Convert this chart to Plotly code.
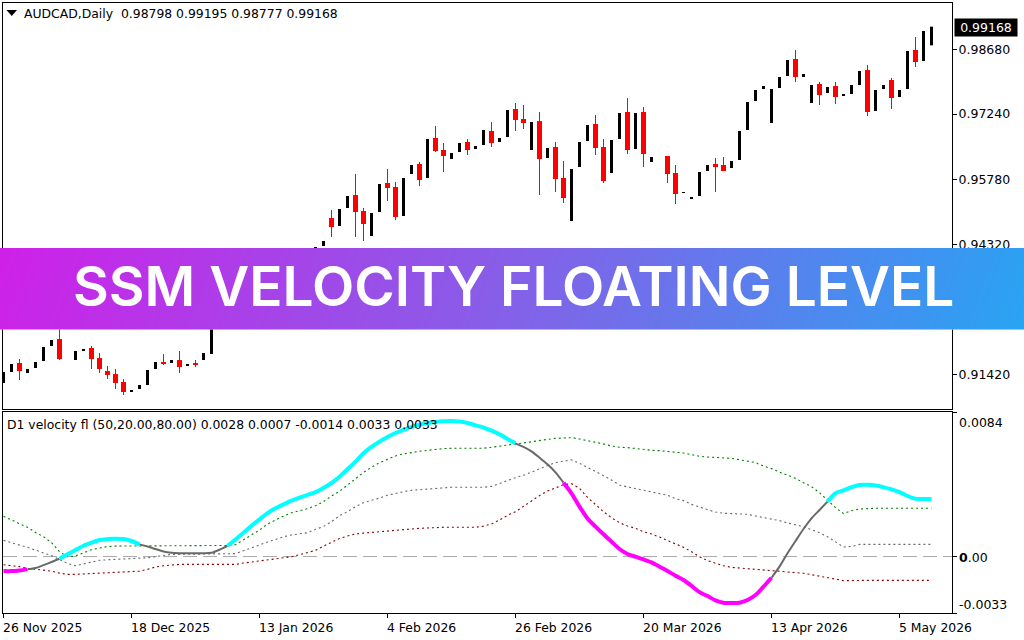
import numpy as np
import plotly.graph_objects as go

symbol = "AUDCAD,Daily"
last_quote = "0.98798 0.99195 0.98777 0.99168"
indicator_label = "D1 velocity fl (50,20.00,80.00) 0.0028 0.0007 -0.0014 0.0033 0.0033"
banner_title = "SSM VELOCITY FLOATING LEVEL"

opens = [.91227,.91473,.91674,.91451,.91563,.91719,.92055,.92211,.92480,.91741,.91965,.92010,.91786,.91495,.91428,.91250,.91048,.91093,.91182,.91540,
 .91697,.91674,.91741,.91607,.91674,.91741,.91876,.92500,.93000,.93500,.93100,.93500,.93800,.93500,.93700,.93950,.93700,.93800,.93900,.94100,
 .94291,.94916,.94738,.95140,.95431,.95073,.94514,.95051,.95699,.95610,.94961,.95901,.96124,.95811,.96705,.96437,.96236,.96392,.96616,.96459,
 .96549,.96862,.96616,.96728,.97354,.97130,.96437,.97085,.96258,.96504,.95811,.94849,.96057,.96638,.97018,.96504,.95923,.96683,.97287,.96459,
 .97287,.96169,None,.96303,.95923,.95476,.95341,.95408,.95968,.96124,.96102,.96035,.96213,.96884,.97533,.97801,.97041,.97823,.98092,.98472,
 .98069,.97488,.97913,.97711,.97868,.97644,.97689,.97890,.98226,.97309,.97801,.98002,.97622,.97801,.98673,.98427,.98798]
highs = [.91473,.91652,.91764,.91540,.91697,.92032,.92189,.92524,.92900,.91943,.91987,.92055,.91898,.91607,.91540,.91317,.91071,.91182,.91518,.91697,
 .91876,.91741,.91943,.91652,.91741,.91898,.92500,.93000,.93300,.93600,.93500,.93800,.93900,.93700,.93900,.94050,.94000,.94050,.94100,.94268,
 .94402,.95095,.95118,.95408,.95901,.95140,.95028,.95677,.96012,.95721,.95811,.96102,.96169,.96683,.96974,.96594,.96370,.96594,.96683,.96526,
 .96884,.97063,.96705,.97331,.97488,.97443,.97063,.97287,.96482,.96616,.96191,.96012,.96616,.96996,.97220,.96683,.96661,.97264,.97600,.97264,
 .97398,.96280,None,.96303,.96102,.95498,.95386,.95945,.96102,.96258,.96280,.96191,.96862,.97510,.97779,.97868,.97801,.98069,.98449,.98673,
 .98136,.97890,.97958,.97846,.97958,.97689,.97890,.98203,.98338,.97779,.97890,.98047,.97779,.98651,.98964,.99098,.99195]
lows = [.91227,.91473,.91294,.91451,.91563,.91719,.92055,.91741,.92480,.91741,.91965,.91540,.91451,.91317,.91093,.90959,.91048,.91093,.91182,.91540,
 .91630,.91674,.91451,.91607,.91585,.91741,.91876,.92500,.93000,.93000,.93100,.93500,.93400,.93500,.93700,.93600,.93700,.93800,.93900,.94100,
 .94291,.94492,.94738,.95140,.94492,.94402,.94514,.95051,.95297,.94872,.94961,.95901,.95632,.95811,.96392,.95945,.96236,.96392,.96325,.96459,
 .96549,.96504,.96616,.96728,.96862,.96907,.96437,.95431,.96258,.95498,.95252,.94849,.96057,.96638,.96325,.95699,.95923,.96683,.96348,.96459,
 .96057,.96169,None,.95699,.95230,.95476,.95341,.95408,.95968,.95498,.95968,.96035,.96213,.96884,.97533,.97801,.97041,.97823,.98092,.97958,
 .98069,.97488,.97443,.97711,.97466,.97644,.97689,.97890,.97197,.97309,.97801,.97354,.97622,.97801,.98293,.98427,.98777]
closes = [.91473,.91652,.91495,.91540,.91697,.92032,.92189,.91764,.92900,.91943,.91987,.91764,.91540,.91406,.91227,.91026,.91071,.91182,.91518,.91697,
 .91652,.91741,.91585,.91652,.91630,.91898,.92500,.93000,.93300,.93100,.93500,.93800,.93500,.93700,.93900,.93700,.94000,.94050,.94100,.94268,
 .94402,.94715,.95118,.95408,.95051,.94782,.95028,.95677,.95587,.94939,.95811,.96102,.95766,.96683,.96415,.96303,.96370,.96594,.96437,.96526,
 .96884,.96594,.96705,.97331,.97108,.97041,.97063,.96236,.96482,.95789,.95364,.96012,.96616,.96996,.96482,.95744,.96661,.97264,.96437,.97264,
 .96348,.96280,None,.95901,.95453,.95498,.95386,.95945,.96102,.96057,.95968,.96191,.96862,.97510,.97779,.97868,.97801,.98069,.98449,.98069,
 .98136,.97890,.97667,.97846,.97622,.97689,.97890,.98203,.97287,.97779,.97890,.97600,.97779,.98651,.98405,.99098,.99168]

# indicator series, in units of 0.00001
velocity = [-85,-85,-81,-75,-67,-50,-32,-13,13,38,63,81,97,102,104,102,91,71,59,44,30,22,19,19,19,19,22,40,63,100,
 139,180,217,254,282,305,327,344,360,377,401,430,467,510,555,604,641,672,699,722,740,758,771,781,787,791,793,789,781,767,
 754,736,715,687,662,641,615,578,539,492,432,370,292,223,175,130,87,44,15,-1,-17,-34,-59,-85,-112,-137,-171,-208,-231,-256,
 -270,-272,-270,-254,-225,-176,-124,-59,19,91,161,223,272,321,370,387,405,418,420,416,405,393,377,354,338,336,336]
upper_level = [235,214,190,171,141,116,81,28,-1,3,22,40,50,58,61,61,61,61,63,65,65,65,65,65,65,65,65,65,65,69,
 97,126,155,190,215,237,256,266,280,297,321,354,381,418,457,492,522,549,568,588,600,609,615,621,627,631,633,633,633,633,
 633,639,644,650,658,664,672,680,685,691,695,695,687,678,668,658,646,639,637,631,629,621,619,615,611,605,596,586,582,580,
 578,574,566,559,549,529,514,494,475,457,432,409,373,331,286,251,268,278,282,282,282,282,282,282,282,282,282]
mid_level = [95,83,67,54,38,22,5,-17,-40,-54,-44,-32,-22,-19,-17,-17,-15,-11,-7,-1,5,13,13,13,13,13,13,13,15,17,
 34,52,69,85,100,116,126,132,139,159,176,204,239,262,292,315,327,342,358,370,379,387,391,395,401,403,405,405,405,405,
 405,410,428,447,461,475,494,516,531,549,559,566,545,522,496,473,447,418,407,397,387,381,370,358,338,327,305,288,274,260,
 253,251,251,247,237,229,219,210,196,184,175,157,139,116,85,56,59,71,71,71,71,71,71,71,71,71,71]
lower_level = [-48,-52,-59,-69,-73,-77,-85,-97,-104,-104,-102,-98,-97,-95,-95,-93,-91,-85,-75,-61,-54,-48,-46,-46,-46,-46,-46,-46,-46,-46,
 -38,-32,-28,-22,-17,-11,-1,11,22,36,61,85,106,120,132,137,141,147,153,157,161,163,165,167,171,171,171,171,171,171,
 178,190,214,241,262,293,329,356,383,403,420,426,399,346,305,262,227,198,178,165,145,132,114,95,73,54,28,-1,-24,-40,
 -54,-63,-67,-69,-73,-75,-81,-87,-91,-95,-98,-106,-116,-124,-132,-141,-139,-139,-139,-139,-139,-139,-139,-139,-139,-139,-139]

# colour runs of the velocity line: (first bar, last bar, state)
velocity_runs = [(0,3,"down"),(3,7,"flat"),(7,17,"up"),(17,28,"flat"),(28,64,"up"),(64,70,"flat"),
                 (70,96,"down"),(96,103,"flat"),(103,116,"up")]

price_ticks = [0.98680, 0.97240, 0.95780, 0.94320, 0.91420]
velocity_ticks = [0.0084, 0.0, -0.0033]
date_bars = [0, 16, 32, 48, 64, 80, 96, 112]
date_labels = ["26 Nov 2025","18 Dec 2025","13 Jan 2026","4 Feb 2026","26 Feb 2026","20 Mar 2026","13 Apr 2026","5 May 2026"]
last_price = 0.99168

FONT = "DejaVu Sans"
W, H = 1024, 640
px = lambda v: v / W
py = lambda v: 1 - v / H

x = np.arange(len(opens))
o = np.array(opens, float); h = np.array(highs, float); l = np.array(lows, float); c = np.array(closes, float)
is_up = c >= o
is_down = c < o

fig = go.Figure()
# up candles (solid black blocks)
fig.add_trace(go.Bar(x=x[is_up], y=(h - l)[is_up], base=l[is_up], width=0.375, marker=dict(color="black", line_width=0),
                     xaxis="x", yaxis="y", showlegend=False, hoverinfo="skip"))
# down candles: wick and body
fig.add_trace(go.Bar(x=x[is_down], y=(h - l)[is_down], base=l[is_down], width=0.1, marker=dict(color="#ff0000", line_width=0),
                     xaxis="x", yaxis="y", showlegend=False, hoverinfo="skip"))
fig.add_trace(go.Bar(x=x[is_down], y=(o - c)[is_down], base=c[is_down], width=0.625, marker=dict(color="#ff0000", line_width=0),
                     xaxis="x", yaxis="y", showlegend=False, hoverinfo="skip"))

SCALE = 1e-5
for series, colour in [(upper_level, "#008000"), (mid_level, "#696969"), (lower_level, "#8b0000")]:
    fig.add_trace(go.Scatter(x=x, y=np.array(series) * SCALE, mode="lines", xaxis="x2", yaxis="y2",
                             line=dict(color=colour, width=1.1, dash="2px,3px"), showlegend=False, hoverinfo="skip"))
styles = {"up": ("#00ffff", 4), "down": ("#ff00ff", 4), "flat": ("#696969", 2)}
vel = np.array(velocity) * SCALE
for start, end, state in velocity_runs:
    colour, width = styles[state]
    fig.add_trace(go.Scatter(x=x[start:end + 1], y=vel[start:end + 1], mode="lines", xaxis="x2", yaxis="y2",
                             line=dict(color=colour, width=width, shape="spline", smoothing=0.8), showlegend=False, hoverinfo="skip"))

# banner gradient on its own hidden axes
fig.add_trace(go.Heatmap(x=[0, 1], y=[0, 1], z=[[0.03, 1.0], [0.0, 0.97]], zmin=0, zmax=1, zsmooth="best",
                         colorscale=[[0, "#cf20e8"], [0.5, "#8560e8"], [1, "#28a4f3"]], showscale=False,
                         xaxis="x3", yaxis="y3", hoverinfo="skip"))

X_RANGE = [-0.0625, 118.5625]
frame = dict(showline=True, linecolor="black", linewidth=1, mirror=True, showgrid=False, zeroline=False)
fig.update_layout(
    width=W, height=H, margin=dict(l=0, r=0, t=0, b=0), paper_bgcolor="white", plot_bgcolor="white",
    barmode="overlay", showlegend=False, font=dict(family=FONT, size=12, color="black"),
    xaxis=dict(domain=[px(3), px(952)], range=X_RANGE, anchor="y", showticklabels=False, ticks="", **frame),
    yaxis=dict(domain=[py(409), py(3)], range=[0.90646, 0.99724], anchor="x", side="right",
               tickmode="array", tickvals=price_ticks, ticktext=[f"{t:.5f}" for t in price_ticks],
               ticks="outside", ticklen=4, tickcolor="black", tickwidth=1, ticklabelstandoff=-1,
               tickfont=dict(family=FONT, size=12.5, color="black"), **frame),
    xaxis2=dict(domain=[px(3), px(952)], range=X_RANGE, anchor="y2", tickmode="array", tickvals=date_bars,
                ticktext=["" for _ in date_bars], ticks="outside", ticklen=4, tickcolor="black", tickwidth=1, **frame),
    yaxis2=dict(domain=[py(613), py(412)], range=[-0.0033, 0.00845], anchor="x2", side="right", tickmode="array",
                tickvals=velocity_ticks, ticktext=["", "", ""], ticks="outside", ticklen=4, tickcolor="black", tickwidth=1, **frame),
    xaxis3=dict(domain=[0, 1], range=[0, 1], anchor="y3", visible=False),
    yaxis3=dict(domain=[py(329.5), py(248)], range=[0, 1], anchor="x3", visible=False),
)

# zero level of the indicator
fig.add_shape(type="line", xref="x2", yref="y2", x0=X_RANGE[0], x1=X_RANGE[1], y0=0, y1=0,
              line=dict(color="#a9a9a9", width=1, dash="14px,6px"), layer="between")

# header triangle
fig.add_shape(type="path", xref="paper", yref="paper", line_width=0, fillcolor="black", layer="above",
              path=f"M {px(6.5)} {py(10)} L {px(17)} {py(10)} L {px(11.75)} {py(16)} Z")

notes = [
    dict(x=px(23), y=py(14), xref="paper", yref="paper", text=f"{symbol}  {last_quote}", xanchor="left", font=dict(size=12.4)),
    dict(x=px(6), y=py(424), xref="paper", yref="paper", text=indicator_label, xanchor="left", font=dict(size=12.4)),
    dict(x=px(954), y=last_price, xref="paper", yref="y", text=f"{last_price:.5f}", xanchor="left", width=62, height=17,
         bgcolor="black", font=dict(size=12.5, color="white")),
    dict(x=px(958), y=py(422), xref="paper", yref="paper", text=f"{velocity_ticks[0]:.4f}", xanchor="left", font=dict(size=12.5)),
    dict(x=px(958), y=py(557), xref="paper", yref="paper", text="<b>0</b>.00", xanchor="left", font=dict(size=12.5)),
    dict(x=px(958), y=py(604), xref="paper", yref="paper", text=f"{velocity_ticks[2]:.4f}", xanchor="left", font=dict(size=12.5)),
    dict(x=px(513.5), y=py(285.5), xref="paper", yref="paper", text=banner_title, xanchor="center",
         font=dict(family="Inter", size=55, color="white", weight=600)),
]
for bar, label in zip(date_bars, date_labels):
    notes.append(dict(x=bar, y=py(627), xshift=-2, xref="x2", yref="paper", text=label, xanchor="left", font=dict(size=12.4)))
for n in notes:
    n.update(showarrow=False, borderpad=0, yanchor="middle", align="left" if "bgcolor" not in n else "center")
fig.update_layout(annotations=notes)

fig.write_html("out.html", post_script="document.body.style.margin='0';", config={"displayModeBar": False})
